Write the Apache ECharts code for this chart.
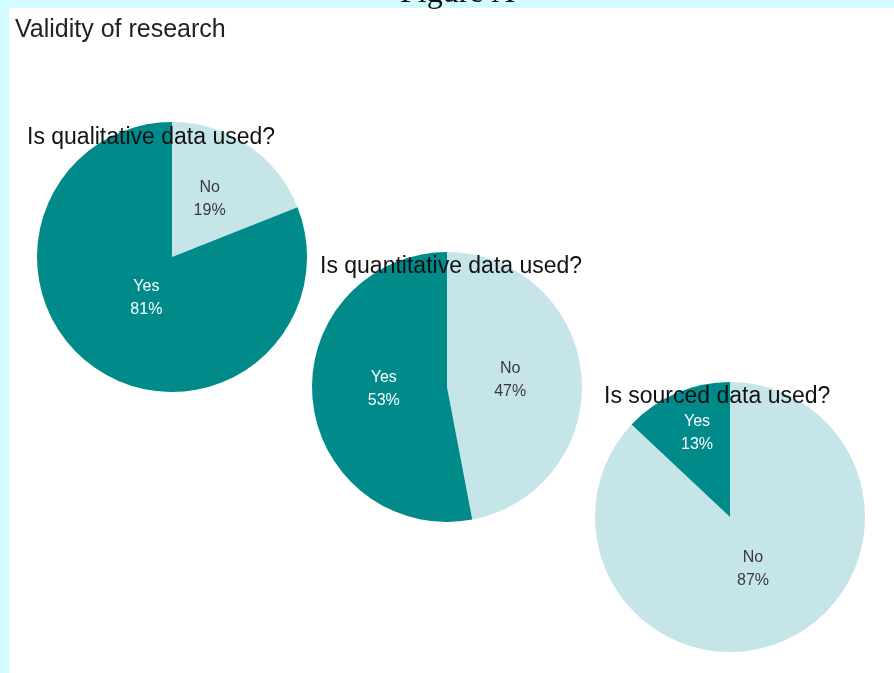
<!DOCTYPE html>
<html>
<head>
<meta charset="utf-8">
<title>Validity of research</title>
<script src="https://cdn.jsdelivr.net/npm/echarts@6/dist/echarts.min.js"></script>
<style>
  html, body { margin: 0; padding: 0; background: #d2fcff; }
  #main { width: 894px; height: 673px; }
</style>
</head>
<body>
<div id="main"></div>
<script>
// 数据
var questions = ['Is qualitative data used?', 'Is quantitative data used?', 'Is sourced data used?']
var answers = ['No', 'Yes']
var noValues = [19, 47, 87]
var yesValues = [81, 53, 13]

// 每个饼图的位置（圆心）和标题位置
var centers = [[172, 257], [447, 387], [730, 517]]
var titlePos = [[27, 126], [320, 255], [604, 385]]
// 标签微调 [No, Yes]
var labelShift = [[[-2, 0], [14, -17]], [[-7, 0], [7, -5]], [[-5, -13], [-5, -19]]]

var tealColor = '#008a8a'
var lightColor = '#c6e5e9'

var myChart = echarts.init(document.getElementById('main'));

var titles = [{
    text: 'Validity of research',
    left: 15,
    top: 18,
    padding: 0,
    textStyle: { fontFamily: 'Liberation Sans', fontSize: 25, fontWeight: 'normal', color: '#222' }
}]
var series = []
for (let i in questions) {
    titles.push({
        text: questions[i],
        left: titlePos[i][0],
        top: titlePos[i][1],
        padding: 0,
        z: 10,
        textStyle: { fontFamily: 'Liberation Sans', fontSize: 23, fontWeight: 'normal', color: '#111' }
    })
    series.push({
        type: 'pie',
        center: centers[i],
        radius: 135,
        startAngle: 90,
        clockwise: true,
        silent: true,
        avoidLabelOverlap: false,
        label: {
            position: 'inside',
            formatter: '{b}\n{c}%',
            fontFamily: 'Liberation Sans',
            fontSize: 16,
            lineHeight: 23
        },
        labelLine: { show: false },
        itemStyle: { borderWidth: 0 },
        data: [
            { name: answers[0], value: noValues[i], itemStyle: { color: lightColor }, label: { color: '#3a3a3a', offset: labelShift[i][0] } },
            { name: answers[1], value: yesValues[i], itemStyle: { color: tealColor }, label: { color: '#fff', offset: labelShift[i][1] } }
        ]
    })
}

var option = {
    animation: false,
    title: titles,
    graphic: [
        { type: 'rect', shape: { x: 9, y: 8, width: 885, height: 665 }, style: { fill: '#fff' }, z: -10 },
        { type: 'text', left: 400, top: -22, style: { text: 'Figure A', font: '32px "Liberation Serif"', fill: '#111' }, z: -5 }
    ],
    series: series
};

myChart.setOption(option);
</script>
</body>
</html>
